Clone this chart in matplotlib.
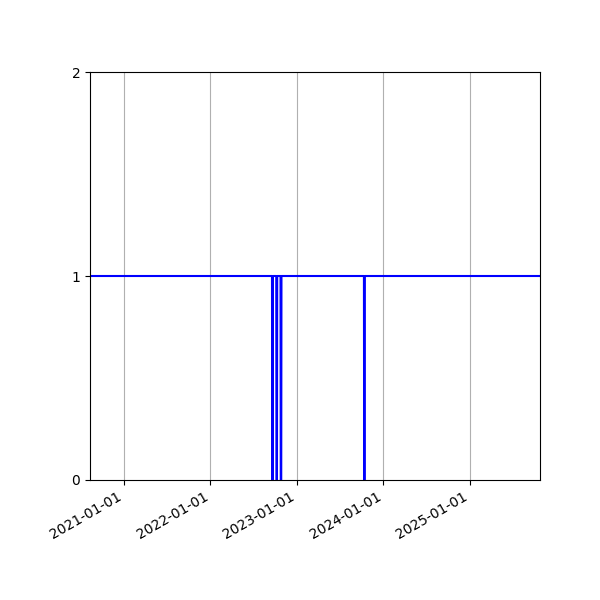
import matplotlib
matplotlib.use("Agg")
import matplotlib.pyplot as plt
import matplotlib.dates as mdates
import numpy as np
import pandas as pd

start_date = "2020-08-11"
end_date = "2025-10-23"
outage_starts = ["2022-09-19", "2022-10-07", "2022-10-25", "2023-10-12"]
outage_days = [3, 3, 3, 3]
base_value = 1
outage_value = 0
y_ticks = [0, 1, 2]

dates = pd.date_range(start_date, end_date, freq="D")
values = np.full(len(dates), base_value, dtype=float)
for s, n in zip(outage_starts, outage_days):
    s = pd.Timestamp(s)
    mask = (dates >= s) & (dates < s + pd.Timedelta(days=n))
    values[mask] = outage_value

fig, ax = plt.subplots(figsize=(6, 6), dpi=100)
ax.plot(dates, values, color="blue", linewidth=1.5)
ax.set_xlim(dates[0], dates[-1])
ax.set_ylim(0, 2)
ax.set_yticks(y_ticks)
ax.xaxis.set_major_locator(mdates.YearLocator())
ax.xaxis.set_major_formatter(mdates.DateFormatter("%Y-%m-%d"))
ax.grid(axis="x")
fig.autofmt_xdate()
fig.subplots_adjust(left=0.15, right=0.9, top=0.88, bottom=0.2)
fig.savefig("out.png", dpi=100)
